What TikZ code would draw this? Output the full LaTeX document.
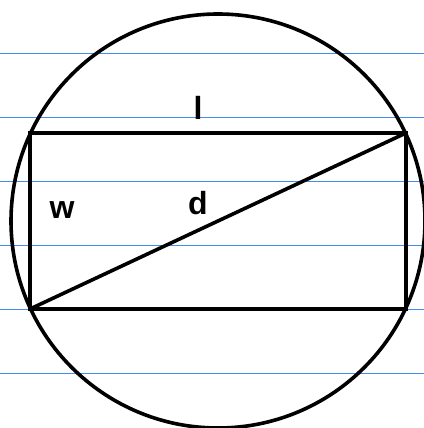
\documentclass[tikz,border=0pt]{standalone}
\usepackage{fontspec}
\setsansfont{Liberation Sans}
\definecolor{ruleblue}{RGB}{66,140,235}
\begin{document}
\begin{tikzpicture}[x=0.75pt,y=0.75pt,line width=2.7pt,
    font=\sffamily\bfseries\fontsize{24}{24}\selectfont,
    ruled/.style={ruleblue,line width=1pt},
    hand/.style={inner sep=0pt}]
  \useasboundingbox (0,0) rectangle (424,428);
  \clip (0,0) rectangle (424,428);
  \foreach \y in {54.5,118.5,182.5,246.5,310.5,374.5} {
    \draw[ruled] (0,\y) -- (424,\y);
  }
  \draw (218,207) circle (207);
  \coordinate (sw) at (30,119);
  \coordinate (ne) at (406,295);
  \draw (sw) rectangle (ne);
  \draw (sw) -- (ne);
  \node[hand] (lenlabel) at (198,320) {l};
  \node[hand] (widlabel) at (62,218) {w};
  \node[hand] (diaglabel) at (198,225) {d};
\end{tikzpicture}
\end{document}
